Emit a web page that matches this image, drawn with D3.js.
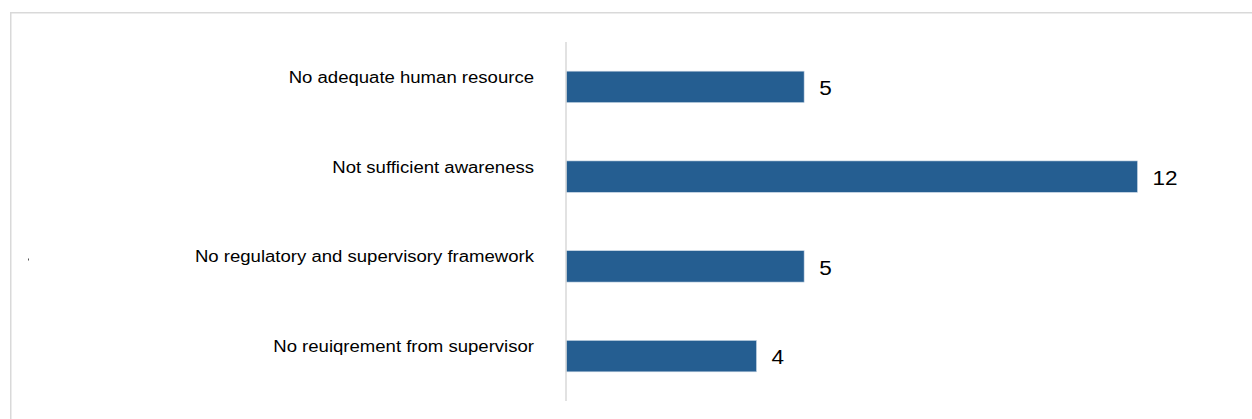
<!DOCTYPE html>
<html>
<head>
<meta charset="utf-8">
<script src="https://cdn.jsdelivr.net/npm/d3@7"></script>
<style>
  html, body { margin: 0; padding: 0; background: #fff; }
  svg { display: block; }
</style>
</head>
<body>
<svg id="chart" width="1252" height="419"></svg>
<script>
// Reasons for not adopting, with the number of respondents citing each
const categories = [
  "No adequate human resource",
  "Not sufficient awareness",
  "No regulatory and supervisory framework",
  "No reuiqrement from supervisor"
];
const counts = [5, 12, 5, 4];

const svg = d3.select("#chart");
const W = 1252, H = 419;
const stretch = 1.16; // text is drawn slightly wide

// Frame around the chart area
svg.append("rect")
  .attr("x", 10.75).attr("y", 12.75)
  .attr("width", W + 20).attr("height", H + 20)
  .attr("fill", "none")
  .attr("stroke", "#d9d9d9")
  .attr("stroke-width", 1.5);

const x = d3.scaleLinear().domain([0, 12]).range([566, 1137.5]);
const y = d3.scaleBand()
  .domain(categories)
  .range([42, 401])
  .paddingInner(0.65)
  .paddingOuter(0.325);

const data = categories.map((c, i) => ({ cat: c, value: counts[i] }));

// Bars
svg.append("g").selectAll("rect")
  .data(data)
  .join("rect")
  .attr("x", x(0))
  .attr("y", d => y(d.cat))
  .attr("width", d => x(d.value) - x(0))
  .attr("height", y.bandwidth())
  .attr("fill", "#255e91")
  .attr("stroke", "#c9d7e6")
  .attr("stroke-width", 0.6);

// Vertical category axis line
svg.append("line")
  .attr("x1", x(0)).attr("x2", x(0))
  .attr("y1", 42).attr("y2", 401)
  .attr("stroke", "#d9d9d9")
  .attr("stroke-width", 1.5);

// Category labels
svg.append("g").selectAll("text")
  .data(data)
  .join("text")
  .attr("transform", d => `translate(534,${y(d.cat) + y.bandwidth() / 2 - 9.5}) scale(${stretch},1)`)
  .attr("dy", "0.35em")
  .attr("text-anchor", "end")
  .attr("font-family", "Liberation Sans, Arial, sans-serif")
  .attr("font-size", 16)
  .attr("fill", "#000")
  .text(d => d.cat);

// Value labels
svg.append("g").selectAll("text")
  .data(data)
  .join("text")
  .attr("transform", d => `translate(${x(d.value) + 15},${y(d.cat) + y.bandwidth() / 2 + 1}) scale(1.1,1)`)
  .attr("dy", "0.35em")
  .attr("font-family", "Liberation Sans, Arial, sans-serif")
  .attr("font-size", 20.5)
  .attr("fill", "#000")
  .text(d => d.value);

// Stray marker at the left edge
svg.append("rect")
  .attr("x", 28).attr("y", 258.5)
  .attr("width", 1).attr("height", 2)
  .attr("fill", "#555");
</script>
</body>
</html>
